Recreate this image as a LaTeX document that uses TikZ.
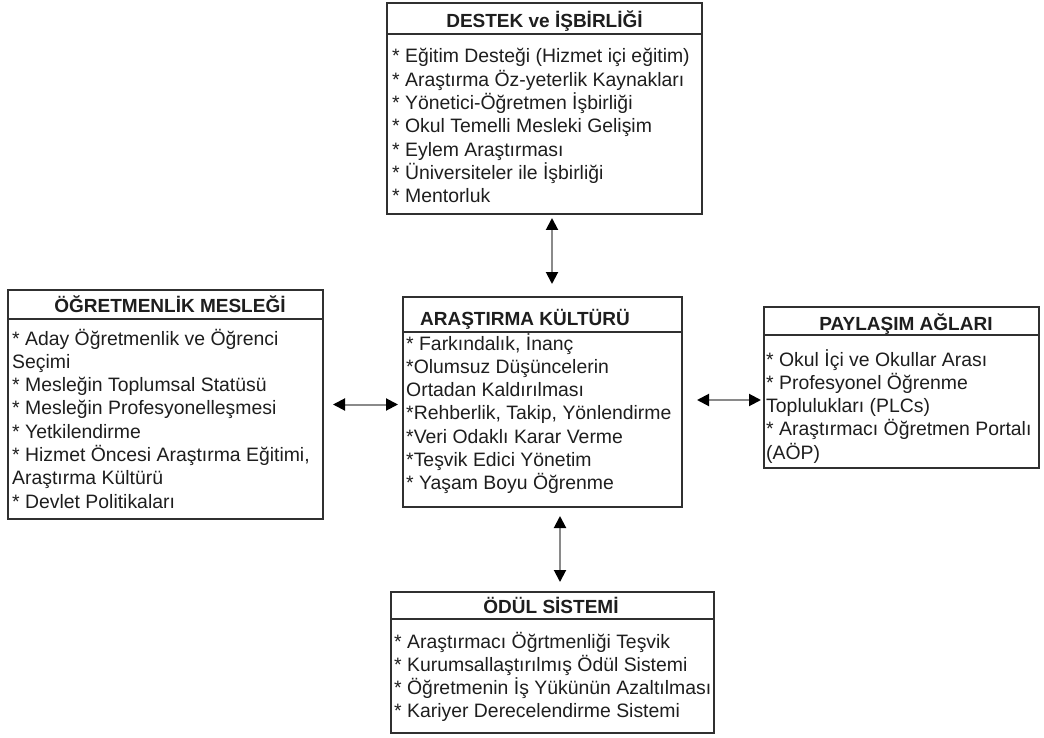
\documentclass[tikz,border=0pt]{standalone}
\usepackage{fontspec}
\setmainfont{Liberation Sans}
\usetikzlibrary{arrows.meta}
\definecolor{ink}{HTML}{1E1E1E}
\definecolor{frame}{HTML}{303030}
\definecolor{shaft}{HTML}{8A8A8A}
% a stack of lines with a fixed baseline step; its base is the first baseline
\newcommand{\itemstack}[1]{\vtop{\baselineskip=23.3pt\lineskiplimit=-20pt\lineskip=0pt #1}}
\newcommand{\li}[1]{\hbox{\strut#1}}
\tikzset{
  panel/.style={draw=frame, line width=1.5pt, fill=white, inner sep=0pt, outer sep=0pt, rectangle},
  rule/.style={draw=frame, line width=1.5pt},
  head/.style={font=\fontsize{19}{23}\selectfont\bfseries, text=ink, inner sep=0pt, anchor=base},
  body/.style={font=\fontsize{19.4}{23.3}\selectfont, text=ink, inner sep=0pt, anchor=base west},
  link/.style={draw=shaft, line width=2pt,
    {Triangle[length=12pt,width=12pt,color=black]}-{Triangle[length=12pt,width=12pt,color=black]}}
}
\begin{document}
\begin{tikzpicture}[x=1pt,y=-1pt]
\useasboundingbox[fill=white] (0,0) rectangle (1044,738);

% boxes
\node[panel, minimum width=315pt, minimum height=211pt] (destek) at (544.5,108.5) {};
\node[panel, minimum width=315pt, minimum height=229pt] (ogretmen) at (165.5,404.5) {};
\node[panel, minimum width=279pt, minimum height=210pt] (arastirma) at (542.5,402) {};
\node[panel, minimum width=275pt, minimum height=161pt] (paylasim) at (901.5,387.5) {};
\node[panel, minimum width=323pt, minimum height=141pt] (odul) at (552.5,662.5) {};

% header separators
\draw[rule] (destek.west |- 0,34) -- (destek.east |- 0,34);
\draw[rule] (ogretmen.west |- 0,319) -- (ogretmen.east |- 0,319);
\draw[rule] (arastirma.west |- 0,332) -- (arastirma.east |- 0,332);
\draw[rule] (paylasim.west |- 0,335) -- (paylasim.east |- 0,335);
\draw[rule] (odul.west |- 0,619) -- (odul.east |- 0,619);

% titles
\node[head] (destekT) at (544.5,28) {DESTEK ve İŞBİRLİĞİ};
\node[head] (ogretmenT) at (170,312) {ÖĞRETMENLİK MESLEĞİ};
\node[head] (arastirmaT) at (525,325) {ARAŞTIRMA KÜLTÜRÜ};
\node[head] (paylasimT) at (906,330) {PAYLAŞIM AĞLARI};
\node[head] (odulT) at (551,613) {ÖDÜL SİSTEMİ};

% item lists
\node[body] (destekL) at (392,63) {\itemstack{%
  \li{* Eğitim Desteği (Hizmet içi eğitim)}
  \li{* Araştırma Öz-yeterlik Kaynakları}
  \li{* Yönetici-Öğretmen İşbirliği}
  \li{* Okul Temelli Mesleki Gelişim}
  \li{* Eylem Araştırması}
  \li{* Üniversiteler ile İşbirliği}
  \li{* Mentorluk}}};
\node[body] (ogretmenL) at (12,345) {\itemstack{%
  \li{* Aday Öğretmenlik ve Öğrenci}
  \li{Seçimi}
  \li{* Mesleğin Toplumsal Statüsü}
  \li{* Mesleğin Profesyonelleşmesi}
  \li{* Yetkilendirme}
  \li{* Hizmet Öncesi Araştırma Eğitimi,}
  \li{Araştırma Kültürü}
  \li{* Devlet Politikaları}}};
\node[body] (arastirmaL) at (406,350) {\itemstack{%
  \li{* Farkındalık, İnanç}
  \li{*Olumsuz Düşüncelerin}
  \li{Ortadan Kaldırılması}
  \li{*Rehberlik, Takip, Yönlendirme}
  \li{*Veri Odaklı Karar Verme}
  \li{*Teşvik Edici Yönetim}
  \li{* Yaşam Boyu Öğrenme}}};
\node[body] (paylasimL) at (766,366) {\itemstack{%
  \li{* Okul İçi ve Okullar Arası}
  \li{* Profesyonel Öğrenme}
  \li{Toplulukları (PLCs)}
  \li{* Araştırmacı Öğretmen Portalı}
  \li{(AÖP)}}};
\node[body] (odulL) at (394,648) {\itemstack{%
  \li{* Araştırmacı Öğrtmenliği Teşvik}
  \li{* Kurumsallaştırılmış Ödül Sistemi}
  \li{* Öğretmenin İş Yükünün Azaltılması}
  \li{* Kariyer Derecelendirme Sistemi}}};

% two-way links
\draw[link] ([xshift=7.5pt,yshift=-4pt]destek.south) -- ([xshift=9.5pt,yshift=13pt]arastirma.north);
\draw[link] ([xshift=10pt]ogretmen.east) -- ([xshift=-5pt,yshift=-2.5pt]arastirma.west);
\draw[link] ([xshift=15pt,yshift=2pt]arastirma.east) -- ([xshift=-3pt,yshift=-12.5pt]paylasim.west);
\draw[link] ([xshift=17.5pt,yshift=-9pt]arastirma.south) -- ([xshift=7.5pt,yshift=10pt]odul.north);
\end{tikzpicture}
\end{document}
